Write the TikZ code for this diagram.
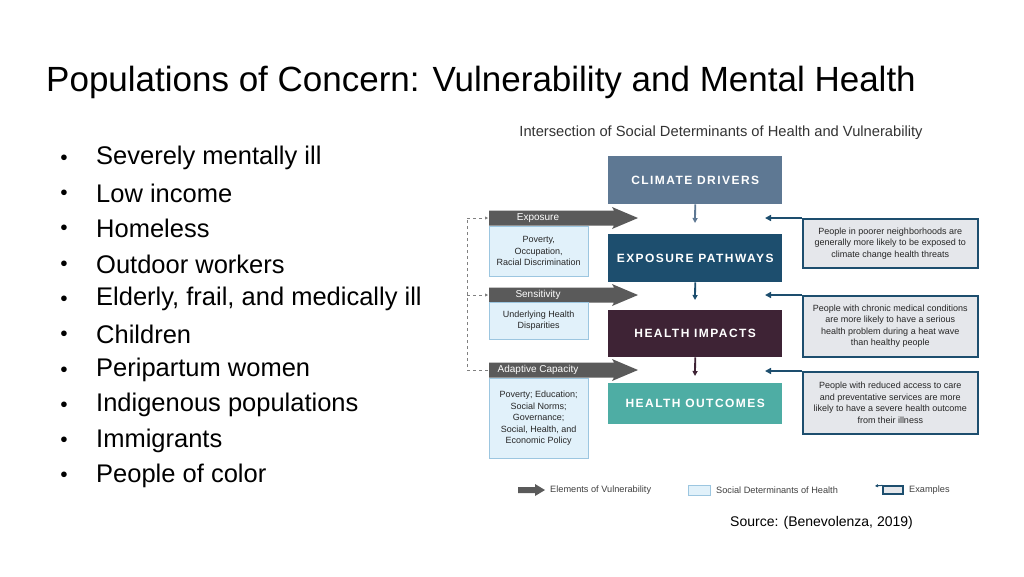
\documentclass[tikz,border=0pt]{standalone}
\usepackage{fontspec}
\setmainfont{Liberation Sans}
\usetikzlibrary{arrows.meta}
\definecolor{cd}{HTML}{5E7893}
\definecolor{ep}{HTML}{1D4E6E}
\definecolor{hi}{HTML}{3E2335}
\definecolor{ho}{HTML}{4EADA4}
\definecolor{ga}{HTML}{5A5A5A}
\definecolor{lb}{HTML}{E1F1FA}
\definecolor{lbb}{HTML}{9CC6E0}
\definecolor{exf}{HTML}{E5E7EB}
\begin{document}
\begin{tikzpicture}[x=1pt,y=-1pt,
 main/.style={minimum width=174pt,inner sep=0pt,text=white,font=\fontsize{12}{14}\selectfont\bfseries,anchor=north west},
 sdh/.style={draw=lbb,fill=lb,minimum width=99pt,inner sep=0pt,anchor=north west,align=center,font=\fontsize{9}{11.5}\selectfont,text=black!85},
 exbox/.style={draw=ep,line width=1.5pt,fill=exf,minimum width=175pt,inner sep=0pt,anchor=north west,align=center,font=\fontsize{9}{11.5}\selectfont,text=black!85},
 garrow/.style={fill=ga,draw=none},
 elbl/.style={text=white,font=\fontsize{10}{11}\selectfont,inner sep=0pt},
 dn/.style={-{Triangle[length=5pt,width=5pt]},line width=1.8pt},
 ex/.style={-{Triangle[length=6pt,width=6pt]},line width=1.5pt,draw=ep},
 lg/.style={anchor=west,inner sep=0pt,font=\fontsize{9.2}{10}\selectfont,text=black!75},
 bl/.style={font=\fontsize{25.5}{28}\selectfont,anchor=west,inner sep=0pt}]
\useasboundingbox (0,0) rectangle (1024,576);
\fill[white] (0,0) rectangle (1024,576);
\node[anchor=west,inner sep=0pt,font=\fontsize{35}{40}\selectfont] (title) at (46,82) {Populations of Concern: Vulnerability and Mental Health};
\foreach \t [count=\i] in {Severely mentally ill,Low income,Homeless,Outdoor workers,{Elderly, frail, and medically ill},Children,Peripartum women,Indigenous populations,Immigrants,People of color}{
 \node[bl] (b\i) at (96,{158+35.3*(\i-1)}) {\t};
 \node[inner sep=0pt,font=\fontsize{13}{16}\selectfont] (d\i) at (64,{158+35.3*(\i-1)}) {●};
}
\node[inner sep=0pt,font=\fontsize{14.7}{16}\selectfont,text=black!80] (dt) at (721,133) {Intersection of Social Determinants of Health and Vulnerability};
% main boxes
\node[main,fill=cd,minimum height=48pt] (cdr) at (608,156) {\addfontfeature{LetterSpace=12}CLIMATE DRIVERS};
\node[main,fill=ep,minimum height=48pt] (epw) at (608,234) {\addfontfeature{LetterSpace=12}EXPOSURE PATHWAYS};
\node[main,fill=hi,minimum height=47pt] (him) at (608,310) {\addfontfeature{LetterSpace=12}HEALTH IMPACTS};
\node[main,fill=ho,minimum height=41pt] (hou) at (608,383) {\addfontfeature{LetterSpace=12}HEALTH OUTCOMES};
\coordinate (j1) at (695,223); \coordinate (j2) at (695,300); \coordinate (j3) at (695,376);
\draw[dn,draw=cd] (cdr.south) -- (j1);
\draw[dn,draw=ep] (epw.south) -- (j2);
\draw[dn,draw=hi] (him.south) -- (j3);
% grey arrows
\foreach \y/\n/\l in {218/e/Exposure,295/s/Sensitivity,370/a/Adaptive Capacity}{
 \fill[garrow] (489,\y-7.5) -- (614,\y-7.5) -- (612,\y-11) -- (638,\y) -- (612,\y+11) -- (614,\y+7.5) -- (489,\y+7.5) -- cycle;
 \node[elbl] (g\n) at (538,\y) {\l};
}
\node[sdh,minimum height=50pt] (se) at (489,226) {Poverty,\\Occupation,\\Racial Discrimination};
\node[sdh,minimum height=37pt] (ss) at (489,302) {Underlying Health\\Disparities};
\node[sdh,minimum height=80pt] (sa) at (489,378) {Poverty; Education;\\Social Norms;\\Governance;\\Social, Health, and\\Economic Policy};
% dashed
\coordinate (k1) at (467,218); \coordinate (k2) at (467,295); \coordinate (k3) at (467,370);
\coordinate (m1) at (488,218); \coordinate (m2) at (488,295); \coordinate (m3) at (488,370);
\draw[gray,dashed,line width=0.8pt] (m3) -- (k3) -- (k1);
\draw[gray,dashed,line width=0.8pt,-{Triangle[length=3pt,width=3pt]}] (k1) -- (m1);
\draw[gray,dashed,line width=0.8pt,-{Triangle[length=3pt,width=3pt]}] (k2) -- (m2);
% examples
\node[exbox,minimum height=49pt] (x1) at (802,218) {People in poorer neighborhoods are\\generally more likely to be exposed to\\climate change health threats};
\node[exbox,minimum height=61pt] (x2) at (802,295) {People with chronic medical conditions\\are more likely to have a serious\\health problem during a heat wave\\than healthy people};
\node[exbox,minimum height=62pt] (x3) at (802,371) {People with reduced access to care\\and preventative services are more\\likely to have a severe health outcome\\from their illness};
\coordinate (r1) at (765,218); \coordinate (r2) at (765,295); \coordinate (r3) at (765,371);
\draw[ex] (x1.north west) -- (r1);
\draw[ex] (x2.north west) -- (r2);
\draw[ex] (x3.north west) -- (r3);
% legend
\fill[garrow] (518,487) -- (535,487) -- (535,484) -- (545,490) -- (535,496) -- (535,493) -- (518,493) -- cycle;
\node[lg] (l1) at (550,490) {Elements of Vulnerability};
\node[draw=lbb,fill=lb,minimum width=22pt,minimum height=10pt,inner sep=0pt] (l2b) at (699,490) {};
\node[lg] (l2) at (716,490) {Social Determinants of Health};
\node[draw=ep,line width=1.2pt,fill=exf,minimum width=20pt,minimum height=8pt,inner sep=0pt] (l3b) at (893,490) {};
\coordinate (l3a) at (875,486);
\draw[ep,line width=1pt,-{Triangle[length=3pt,width=3pt]}] (l3b.north west) -- (l3a);
\node[lg] (l3) at (909,490) {Examples};
\node[anchor=west,inner sep=0pt,font=\fontsize{14}{16}\selectfont] (src) at (730,523) {Source: (Benevolenza, 2019)};
\end{tikzpicture}
\end{document}
